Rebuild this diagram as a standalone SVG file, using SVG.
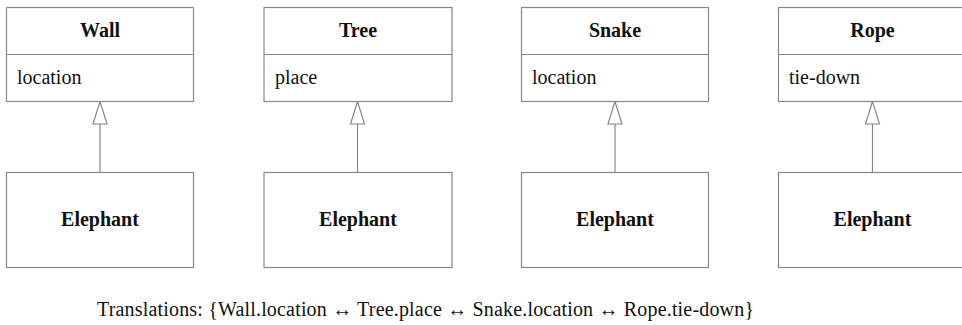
<svg xmlns="http://www.w3.org/2000/svg" width="962" height="325" viewBox="0 0 962 325">
<style>
.box{fill:#fff;stroke:#888;stroke-width:1.2}
.ln{stroke:#888;stroke-width:1.2;fill:none}
.tri{fill:#fff;stroke:#888;stroke-width:1.2}
text{font-family:'Liberation Serif','Times New Roman','DejaVu Serif',serif;font-size:20px;fill:#111}
.b{font-weight:bold;text-anchor:middle}
</style>
<rect width="962" height="325" fill="#fff"/>
<g id="connectors">
<line class="ln" x1="100" y1="124" x2="100" y2="172.5"/>
<polygon class="tri" points="100,101.5 93,124 107,124"/>
<line class="ln" x1="357.5" y1="124" x2="357.5" y2="172.5"/>
<polygon class="tri" points="357.5,101.5 350.5,124 364.5,124"/>
<line class="ln" x1="615" y1="124" x2="615" y2="172.5"/>
<polygon class="tri" points="615,101.5 608,124 622,124"/>
<line class="ln" x1="872.5" y1="124" x2="872.5" y2="172.5"/>
<polygon class="tri" points="872.5,101.5 865.5,124 879.5,124"/>
</g>
<g id="wall">
<rect class="box" x="6.5" y="7.5" width="187" height="94"/>
<line class="ln" x1="6.5" y1="54.5" x2="193.5" y2="54.5"/>
<text class="b" x="100" y="37">Wall</text>
<text x="17" y="84">location</text>
</g>
<g id="tree">
<rect class="box" x="264" y="7.5" width="188" height="94"/>
<line class="ln" x1="264" y1="54.5" x2="452" y2="54.5"/>
<text class="b" x="358" y="37">Tree</text>
<text x="275" y="84">place</text>
</g>
<g id="snake">
<rect class="box" x="521.5" y="7.5" width="187" height="94"/>
<line class="ln" x1="521.5" y1="54.5" x2="708.5" y2="54.5"/>
<text class="b" x="615" y="37">Snake</text>
<text x="532" y="84">location</text>
</g>
<g id="rope">
<rect class="box" x="778.5" y="7.5" width="188" height="94"/>
<line class="ln" x1="778.5" y1="54.5" x2="966.5" y2="54.5"/>
<text class="b" x="872.5" y="37">Rope</text>
<text x="789" y="84">tie-down</text>
</g>
<g id="elephant1">
<rect class="box" x="6.5" y="172.5" width="187" height="95"/>
<text class="b" x="100" y="226">Elephant</text>
</g>
<g id="elephant2">
<rect class="box" x="264" y="172.5" width="188" height="95"/>
<text class="b" x="358" y="226">Elephant</text>
</g>
<g id="elephant3">
<rect class="box" x="521.5" y="172.5" width="187" height="95"/>
<text class="b" x="615" y="226">Elephant</text>
</g>
<g id="elephant4">
<rect class="box" x="778.5" y="172.5" width="188" height="95"/>
<text class="b" x="872.5" y="226">Elephant</text>
</g>
<text x="97" y="316" textLength="657" lengthAdjust="spacing">Translations: {Wall.location ↔ Tree.place ↔ Snake.location ↔ Rope.tie-down}</text>
</svg>
